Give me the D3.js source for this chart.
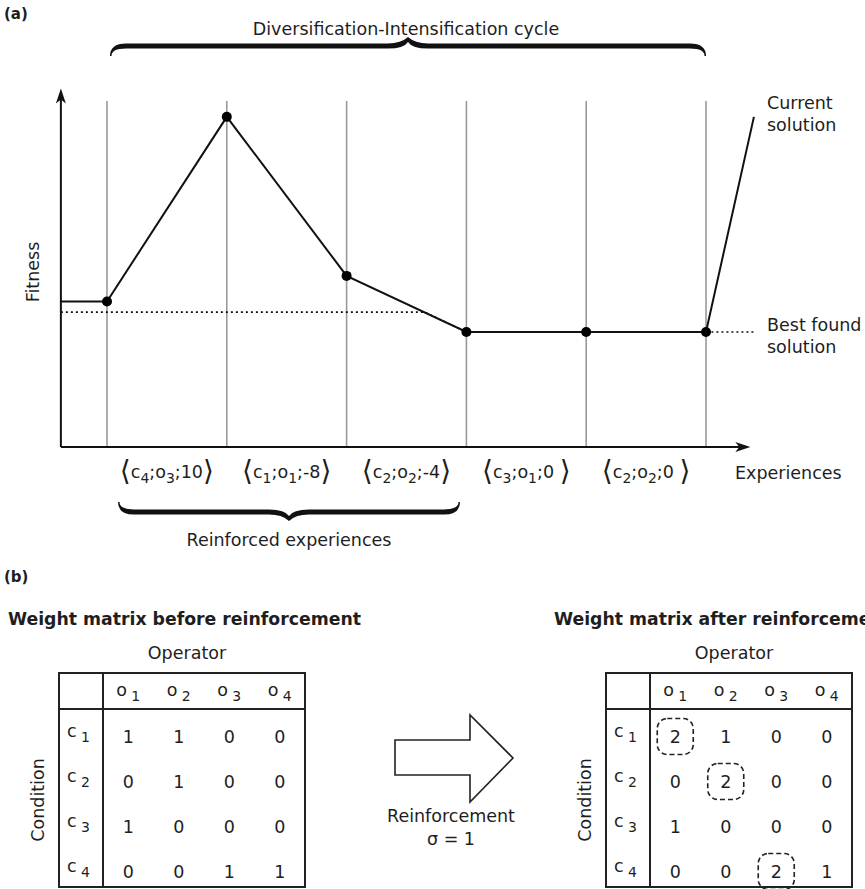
<!DOCTYPE html>
<html><head><meta charset="utf-8">
<script src="https://cdn.jsdelivr.net/npm/d3@7"></script>
<style>
body{margin:0;background:#fff}
text{font-family:"DejaVu Sans",sans-serif;fill:#1e1e1e}
</style>
</head><body><svg id="c" width="865" height="889"></svg>
<script>
// ---------- data ----------
const experienceIndex = [0, 1, 2, 3, 4, 5];
const currentFitness = [41, 93, 48.2, 32.4, 32.4, 32.4];
const startX = -0.385, startFitness = 41;      // where the current line leaves the y axis
const endX = 5.4, endFitness = 93;             // "Current solution" end
const bestX = [-0.385, 2.65, 3, 4, 5, 5.4];
const bestFitness = [38, 38, 32.4, 32.4, 32.4, 32.4];
const expConditions = ["4", "1", "2", "3", "2"];
const expOperators = ["3", "1", "2", "1", "2"];
const expRewards = ["10", "-8", "-4", "0 ", "0 "];
const operators = ["1", "2", "3", "4"];
const conditions = ["1", "2", "3", "4"];
const weightsBefore = [[1, 1, 0, 0], [0, 1, 0, 0], [1, 0, 0, 0], [0, 0, 1, 1]];
const weightsAfter = [[2, 1, 0, 0], [0, 2, 0, 0], [1, 0, 0, 0], [0, 0, 2, 1]];
const reinforcedCells = [[0, 0], [1, 1], [3, 2]];

// ---------- helpers ----------
const FS = 17.5;
const svg = d3.select("#c");
function subText(g, x, y, parts, size, anchor) {
  const t = g.append("text").attr("x", x).attr("y", y).attr("font-size", size)
    .attr("text-anchor", anchor || "start");
  let shifted = 0;
  parts.forEach(p => {
    const s = t.append("tspan").text(p.t);
    let target = p.sub ? 5 : (p.dy || 0);
    if (p.size) s.attr("font-size", p.size);
    else if (p.sub) s.attr("font-size", size * 0.8);
    if (target !== shifted) { s.attr("dy", target - shifted); shifted = target; }
  });
  return t;
}
function bracePath(x1, x2, yE, yB, yT, t, r, r2, c, c2, k) {
  const s = Math.sign(yT - yB), xm = (x1 + x2) / 2, w = 1.5;
  const yo = yB + s * t, yi = yB - s * t;
  return `M${x1},${yE} Q${x1},${yo} ${x1 + r},${yo} L${xm - r2},${yo} Q${xm - c},${yo} ${xm},${yT}
   Q${xm + c},${yo} ${xm + r2},${yo} L${x2 - r},${yo} Q${x2},${yo} ${x2},${yE} L${x2 - w},${yE}
   Q${x2 - w},${yi} ${x2 - r},${yi} L${xm + r2},${yi} Q${xm + c2},${yi} ${xm},${yT - s * k}
   Q${xm - c2},${yi} ${xm - r2},${yi} L${x1 + r},${yi} Q${x1 + w},${yi} ${x1 + w},${yE} Z`;
}

// ---------- panel (a) ----------
svg.append("text").attr("x", 4).attr("y", 19).attr("font-size", 15).attr("font-weight", "bold").text("(a)");
svg.append("text").attr("x", 406).attr("y", 35).attr("font-size", FS).attr("text-anchor", "middle")
  .text("Diversification-Intensification cycle");

const x = d3.scaleLinear().domain([0, 5]).range([107, 706]);
const y = d3.scaleLinear().domain([0, 100]).range([447, 92]);

svg.append("path").attr("d", bracePath(x(0) + 3, x(5), 56, 46, 37, 2.6, 16, 20, 7, 4, 5)).attr("fill", "#111");

// grid lines
svg.append("g").selectAll("line").data(experienceIndex).join("line")
  .attr("x1", d => x(d)).attr("x2", d => x(d)).attr("y1", y(97.5)).attr("y2", y(0))
  .attr("stroke", "#9a9a9a").attr("stroke-width", 1.6);

// axes
const ax0 = x(startX), ay0 = y(0);
svg.append("line").attr("x1", ax0).attr("x2", ax0).attr("y1", ay0).attr("y2", y(99)).attr("stroke", "#111").attr("stroke-width", 2);
svg.append("line").attr("x1", ax0).attr("x2", x(5.33)).attr("y1", ay0).attr("y2", ay0).attr("stroke", "#111").attr("stroke-width", 2);
svg.append("path").attr("d", `M${ax0},${y(101)} L${ax0 - 5},${y(101) + 15} L${ax0},${y(101) + 11} L${ax0 + 5},${y(101) + 15} Z`).attr("fill", "#111");
svg.append("path").attr("d", `M${x(5.37)},${ay0} L${x(5.37) - 15},${ay0 - 5} L${x(5.37) - 11},${ay0} L${x(5.37) - 15},${ay0 + 5} Z`).attr("fill", "#111");

svg.append("text").attr("transform", `translate(39,${272}) rotate(-90)`).attr("text-anchor", "middle")
  .attr("font-size", FS).text("Fitness");

// best found (dotted)
const line = d3.line().x(d => x(d[0])).y(d => y(d[1]));
svg.append("path").attr("d", line(bestX.map((v, i) => [v, bestFitness[i]])))
  .attr("fill", "none").attr("stroke", "#111").attr("stroke-width", 1.6).attr("stroke-dasharray", "2,3");

// current solution
const curPts = [[startX, startFitness]].concat(experienceIndex.map((v, i) => [v, currentFitness[i]])).concat([[endX, endFitness]]);
svg.append("path").attr("d", line(curPts)).attr("fill", "none").attr("stroke", "#111").attr("stroke-width", 2);
svg.append("g").selectAll("circle").data(experienceIndex).join("circle")
  .attr("cx", d => x(d)).attr("cy", (d, i) => y(currentFitness[i])).attr("r", 5).attr("fill", "#000");

svg.append("text").attr("x", 767).attr("y", 109).attr("font-size", FS).text("Current");
svg.append("text").attr("x", 767).attr("y", 131).attr("font-size", FS).text("solution");
svg.append("text").attr("x", 767).attr("y", 331).attr("font-size", FS).text("Best found");
svg.append("text").attr("x", 767).attr("y", 353).attr("font-size", FS).text("solution");

// experience labels
expConditions.forEach((c, i) => {
  subText(svg, x(i + 0.5), 478, [
    { t: "⟨", size: 28, dy: 2 }, { t: "c", dy: 0 }, { t: c, sub: true }, { t: ";o" }, { t: expOperators[i], sub: true },
    { t: ";" + expRewards[i] }, { t: "⟩", size: 28, dy: 2 }
  ], FS, "middle");
});
svg.append("text").attr("x", 735).attr("y", 479).attr("font-size", FS).text("Experiences");

svg.append("path").attr("d", bracePath(118, 460, 502, 512, 521, 2.6, 16, 20, 7, 4, 5)).attr("fill", "#111");
svg.append("text").attr("x", 289).attr("y", 546).attr("font-size", FS).attr("text-anchor", "middle").text("Reinforced experiences");

// ---------- panel (b) ----------
svg.append("text").attr("x", 4).attr("y", 582).attr("font-size", 15).attr("font-weight", "bold").text("(b)");

function drawTable(left, title, titleX, weights, marks) {
  const g = svg.append("g");
  const divX = left + 44, right = left + 246, top = 673, hb = 709, bottom = 887;
  const col = d3.scaleBand().domain(operators).range([divX, right]);
  const row = d3.scaleBand().domain(conditions).range([hb, 889]);
  g.append("text").attr("x", titleX).attr("y", 625).attr("font-size", 17.3).attr("font-weight", "bold").text(title);
  g.append("text").attr("x", (left + right) / 2 + 5).attr("y", 659).attr("font-size", FS).attr("text-anchor", "middle").text("Operator");
  g.append("text").attr("transform", `translate(${left - 15},${(hb + bottom) / 2 + 2}) rotate(-90)`)
    .attr("text-anchor", "middle").attr("font-size", FS).text("Condition");
  g.append("rect").attr("x", left).attr("y", top).attr("width", right - left).attr("height", bottom - top)
    .attr("fill", "none").attr("stroke", "#222").attr("stroke-width", 2);
  g.append("line").attr("x1", divX).attr("x2", divX).attr("y1", top).attr("y2", bottom).attr("stroke", "#222").attr("stroke-width", 2);
  g.append("line").attr("x1", left).attr("x2", right).attr("y1", hb).attr("y2", hb).attr("stroke", "#222").attr("stroke-width", 2);
  operators.forEach(o => subText(g, col(o) + col.bandwidth() / 2, 696, [{ t: "o" }, { t: " " + o, sub: true }], FS, "middle"));
  conditions.forEach(c => subText(g, left + 8, row(c) + row.bandwidth() / 2 + 5, [{ t: "c" }, { t: " " + c, sub: true }], FS, "start"));
  weights.forEach((r, i) => r.forEach((v, j) => {
    g.append("text").attr("x", col(operators[j]) + col.bandwidth() / 2).attr("y", row(conditions[i]) + row.bandwidth() / 2 + 11)
      .attr("font-size", FS).attr("text-anchor", "middle").text(v);
  }));
  (marks || []).forEach(([i, j]) => {
    const cx = col(operators[j]) + col.bandwidth() / 2, cy = row(conditions[i]) + row.bandwidth() / 2 + 5;
    g.append("rect").attr("x", cx - 18).attr("y", cy - 18).attr("width", 36).attr("height", 36).attr("rx", 10)
      .attr("fill", "none").attr("stroke", "#222").attr("stroke-width", 1.6).attr("stroke-dasharray", "5,3");
  });
}
drawTable(59, "Weight matrix before reinforcement", 8, weightsBefore, []);
drawTable(606, "Weight matrix after reinforcement", 554, weightsAfter, reinforcedCells);

// reinforcement arrow
svg.append("path").attr("d", "M395,740 L470,740 L470,715 L513,758 L470,802 L470,775 L395,775 Z")
  .attr("fill", "#fff").attr("stroke", "#222").attr("stroke-width", 1.6);
svg.append("text").attr("x", 451).attr("y", 822).attr("font-size", FS).attr("text-anchor", "middle").text("Reinforcement");
svg.append("text").attr("x", 451).attr("y", 845).attr("font-size", FS).attr("text-anchor", "middle").text("σ = 1");
</script></body></html>
